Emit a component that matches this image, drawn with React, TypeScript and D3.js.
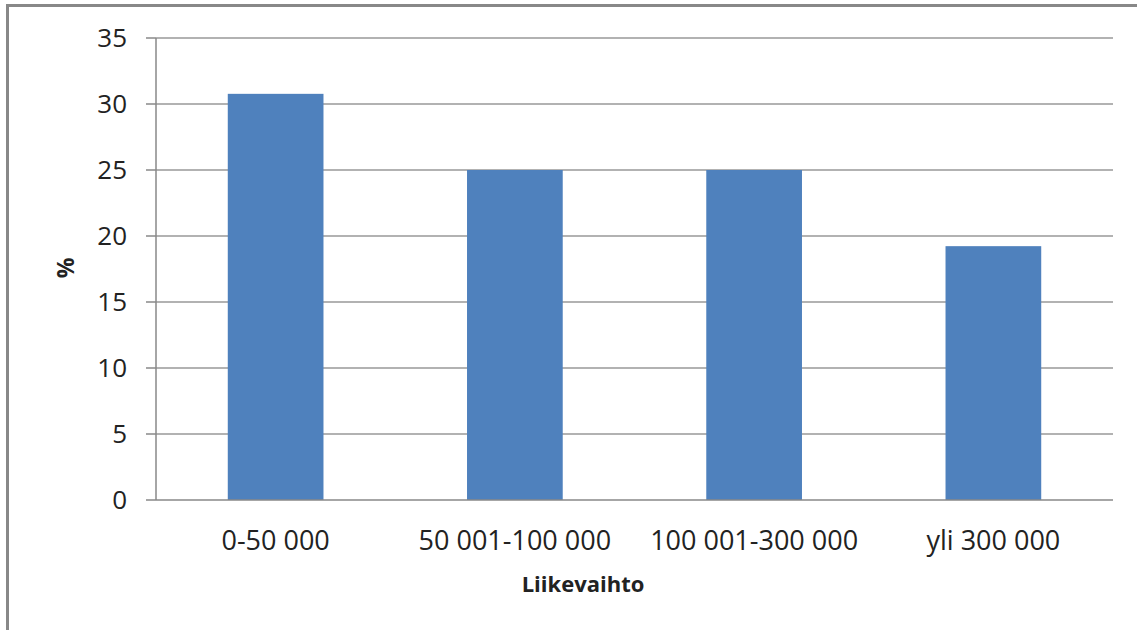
import React from "react";
import * as d3 from "d3";

const categories = ["0-50 000", "50 001-100 000", "100 001-300 000", "yli 300 000"];
const values = [30.77, 25, 25, 19.23];
const yTicks = [0, 5, 10, 15, 20, 25, 30, 35];
const xTitle = "Liikevaihto";
const yTitle = "%";

export default function App() {
  const W = 1137, H = 630;
  const left = 156, right = 1113, top = 38, bottom = 500;
  const x = d3.scaleBand<string>().domain(categories).range([left, right]).paddingInner(0.6).paddingOuter(0.3);
  const y = d3.scaleLinear().domain([0, 35]).range([bottom, top]);
  const font = "'Open Sans', 'DejaVu Sans', sans-serif";
  return (
    <svg width={W} height={H} style={{ position: "absolute", left: 0, top: 0 }}>
      <rect x={0} y={0} width={W} height={H} fill="#fff" />
      <line x1={7.5} y1={5} x2={7.5} y2={H} stroke="#888" strokeWidth={3} />
      <line x1={6} y1={5.5} x2={W} y2={5.5} stroke="#888" strokeWidth={3} />
      {yTicks.map((t) => (
        <g key={t}>
          {t > 0 && <line x1={left} x2={right} y1={y(t)} y2={y(t)} stroke="#999" strokeWidth={1.5} />}
          <line x1={146} x2={left} y1={y(t)} y2={y(t)} stroke="#888" strokeWidth={1.5} />
          <text x={127} y={y(t)} dy="0.36em" textAnchor="end" fontFamily={font} fontSize={26} fill="#222">{t}</text>
        </g>
      ))}
      {categories.map((c, i) => (
        <rect key={c} x={x(c)} y={y(values[i])} width={x.bandwidth()} height={bottom - y(values[i])} fill="#4F81BD" />
      ))}
      <line x1={left} x2={left} y1={top} y2={bottom} stroke="#888" strokeWidth={1.5} />
      <line x1={left} x2={right} y1={bottom} y2={bottom} stroke="#888" strokeWidth={1.5} />
      {categories.map((c) => (
        <text key={c} x={(x(c) as number) + x.bandwidth() / 2} y={550} textAnchor="middle" fontFamily={font} fontSize={27} fill="#222">{c}</text>
      ))}
      <text x={583} y={592} textAnchor="middle" fontFamily={font} fontSize={22} fontWeight="bold" fill="#222">{xTitle}</text>
      <text transform={`translate(74,268) rotate(-90)`} textAnchor="middle" fontFamily={font} fontSize={23} fontWeight="bold" fill="#222">{yTitle}</text>
    </svg>
  );
}
